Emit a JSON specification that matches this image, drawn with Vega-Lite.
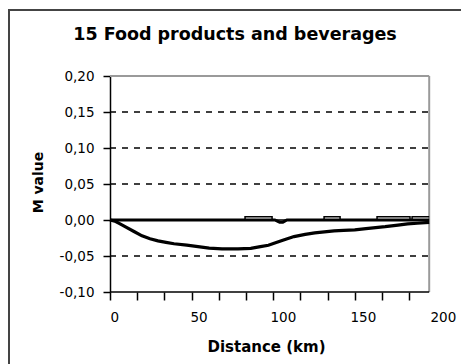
{
  "$schema": "https://vega.github.io/schema/vega-lite/v6.json",
  "width": 470,
  "height": 370,
  "autosize": {"type": "none"},
  "padding": {"left": 9, "top": 10, "right": -18, "bottom": -16},
  "background": "white",
  "config": {
    "font": "DejaVu Sans",
    "view": {"stroke": "#444444", "strokeWidth": 2, "fill": "white"}
  },
  "title": {
    "text": "15 Food products and beverages",
    "font": "DejaVu Sans",
    "fontSize": 17.5,
    "fontWeight": "bold",
    "color": "#000000",
    "anchor": "middle",
    "frame": "group",
    "baseline": "alphabetic",
    "offset": 0,
    "dx": -9,
    "dy": 47
  },
  "datasets": {
    "m_value": [
      {"km": 0, "value": 0},
      {"km": 3, "value": -0.0015},
      {"km": 6, "value": -0.005},
      {"km": 10, "value": -0.01},
      {"km": 15, "value": -0.016},
      {"km": 20, "value": -0.022},
      {"km": 25, "value": -0.026},
      {"km": 30, "value": -0.029},
      {"km": 35, "value": -0.031},
      {"km": 40, "value": -0.033},
      {"km": 48, "value": -0.035},
      {"km": 55, "value": -0.037},
      {"km": 62, "value": -0.039},
      {"km": 70, "value": -0.04},
      {"km": 80, "value": -0.04},
      {"km": 88, "value": -0.0395},
      {"km": 94, "value": -0.037},
      {"km": 99, "value": -0.035},
      {"km": 103, "value": -0.032},
      {"km": 108, "value": -0.028},
      {"km": 115, "value": -0.023},
      {"km": 122, "value": -0.02},
      {"km": 128, "value": -0.018},
      {"km": 134, "value": -0.0165},
      {"km": 140, "value": -0.015},
      {"km": 146, "value": -0.0145},
      {"km": 153, "value": -0.0138},
      {"km": 160, "value": -0.012},
      {"km": 166, "value": -0.0105},
      {"km": 172, "value": -0.0093},
      {"km": 180, "value": -0.007},
      {"km": 186, "value": -0.0055},
      {"km": 192, "value": -0.0045},
      {"km": 199.5, "value": -0.0032}
    ],
    "upper": [
      {"km": 0, "value": 0},
      {"km": 84.4, "value": 0},
      {"km": 84.4, "value": 0.0045},
      {"km": 101.3, "value": 0.0045},
      {"km": 101.3, "value": 0},
      {"km": 133.8, "value": 0},
      {"km": 133.8, "value": 0.0045},
      {"km": 143.8, "value": 0.0045},
      {"km": 143.8, "value": 0},
      {"km": 166.9, "value": 0},
      {"km": 166.9, "value": 0.0045},
      {"km": 187.5, "value": 0.0045},
      {"km": 187.5, "value": 0},
      {"km": 188.8, "value": 0},
      {"km": 188.8, "value": 0.0045},
      {"km": 199.5, "value": 0.0045}
    ],
    "lower": [
      {"km": 0, "value": 0},
      {"km": 103, "value": 0},
      {"km": 106, "value": -0.003},
      {"km": 108, "value": -0.003},
      {"km": 110.6, "value": 0},
      {"km": 199.5, "value": 0}
    ],
    "gridlines": [
      {"value": 0.15},
      {"value": 0.1},
      {"value": 0.05},
      {"value": -0.05}
    ]
  },
  "layer": [
    {
      "data": {"name": "gridlines"},
      "mark": {"type": "rule", "color": "#000000", "strokeWidth": 1.5, "strokeDash": [6, 6]},
      "encoding": {
        "x": {"datum": 0, "type": "quantitative"},
        "x2": {"datum": 199.5},
        "y": {"field": "value", "type": "quantitative"}
      }
    },
    {
      "data": {"values": [{}]},
      "mark": {"type": "rule", "color": "#9a9a9a", "strokeWidth": 2},
      "encoding": {
        "x": {"datum": 0, "type": "quantitative"},
        "x2": {"datum": 199.5},
        "y": {"datum": 0.2, "type": "quantitative"}
      }
    },
    {
      "data": {"values": [{}]},
      "mark": {"type": "rule", "color": "#9a9a9a", "strokeWidth": 2},
      "encoding": {
        "x": {"datum": 199.5, "type": "quantitative"},
        "y": {"datum": -0.1, "type": "quantitative"},
        "y2": {"datum": 0.2}
      }
    },
    {
      "data": {"values": [{}]},
      "mark": {"type": "rule", "color": "#000000", "strokeWidth": 1.5},
      "encoding": {
        "x": {"datum": 0, "type": "quantitative"},
        "x2": {"datum": 199.5},
        "y": {"datum": -0.1, "type": "quantitative"}
      }
    },
    {
      "data": {"name": "lower"},
      "mark": {"type": "line", "color": "#000000", "strokeWidth": 3},
      "encoding": {
        "x": {"field": "km", "type": "quantitative"},
        "y": {"field": "value", "type": "quantitative"}
      }
    },
    {
      "data": {"name": "upper"},
      "mark": {"type": "line", "color": "#000000", "strokeWidth": 1.5},
      "encoding": {
        "x": {"field": "km", "type": "quantitative"},
        "y": {"field": "value", "type": "quantitative"}
      }
    },
    {
      "data": {"name": "m_value"},
      "mark": {"type": "line", "color": "#000000", "strokeWidth": 3.2},
      "encoding": {
        "x": {
          "field": "km",
          "type": "quantitative",
          "scale": {"domain": [0, 200], "range": [101, 421], "nice": false, "zero": false},
          "axis": {
            "title": "Distance (km)",
            "titleFont": "DejaVu Sans",
            "titleFontSize": 15,
            "titleFontWeight": "bold",
            "titleColor": "#000000",
            "titleX": 257,
            "titleY": 54,
            "titleAlign": "center",
            "titleBaseline": "middle",
            "values": [0, 17, 34, 50, 51, 68, 85, 100, 102, 119, 136, 150, 153, 170, 187, 200],
            "tickCount": 100,
            "offset": -88,
            "domain": false,
            "grid": false,
            "tickSize": 8,
            "tickWidth": 1.5,
            "tickColor": "#000000",
            "tickOpacity": {"condition": {"test": "datum.value % 17 === 0", "value": 1}, "value": 0},
            "labelExpr": "datum.value % 50 === 0 ? datum.label : ''",
            "labelFont": "DejaVu Sans",
            "labelFontSize": 13.5,
            "labelColor": "#000000",
            "labelAlign": "left",
            "labelDx": 5,
            "labelPadding": 10,
            "labelOverlap": false,
            "labelFlush": false
          }
        },
        "y": {
          "field": "value",
          "type": "quantitative",
          "scale": {"domain": [-0.1, 0.2], "range": [282, 66], "nice": false, "zero": false},
          "axis": {
            "title": "M value",
            "titleFont": "DejaVu Sans",
            "titleFontSize": 14,
            "titleFontWeight": "bold",
            "titleColor": "#000000",
            "titleAngle": 270,
            "titleX": -72,
            "titleY": 172,
            "titleAlign": "center",
            "titleBaseline": "middle",
            "values": [-0.1, -0.05, 0, 0.05, 0.1, 0.15, 0.2],
            "tickCount": 100,
            "offset": -101,
            "grid": false,
            "domainColor": "#000000",
            "domainWidth": 1.5,
            "tickSize": 7,
            "tickWidth": 1.5,
            "tickColor": "#000000",
            "labelExpr": "replace(replace(format(datum.value, '.2f'), '.', ','), '\u2212', '-')",
            "labelFont": "DejaVu Sans",
            "labelFontSize": 13.5,
            "labelColor": "#000000",
            "labelPadding": 9,
            "labelOverlap": false,
            "labelFlush": false
          }
        }
      }
    }
  ]
}
